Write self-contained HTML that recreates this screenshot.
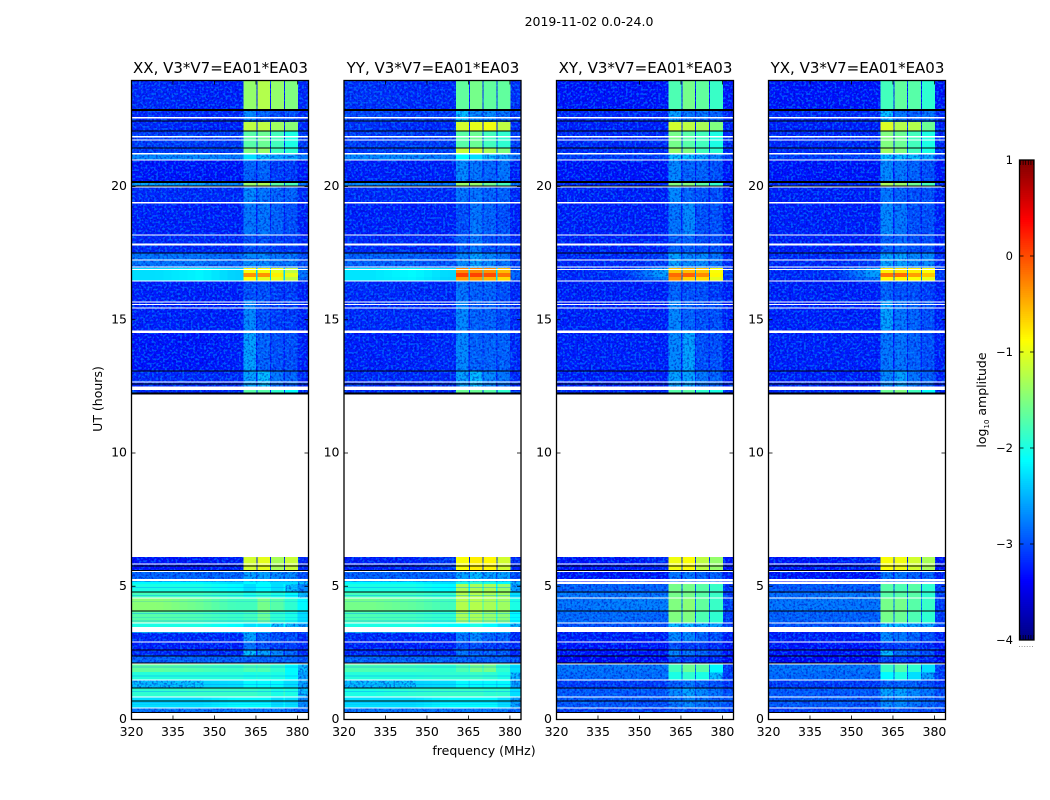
<!DOCTYPE html>
<html>
<head>
<meta charset="utf-8">
<title>2019-11-02 0.0-24.0</title>
<style>
html,body{margin:0;padding:0;background:#fff;width:1050px;height:800px;overflow:hidden}
svg{display:block}
text{font-family:"DejaVu Sans","Liberation Sans",sans-serif;fill:#000}
</style>
</head>
<body>
<svg id="figure" xmlns="http://www.w3.org/2000/svg" width="1050" height="800" viewBox="0 0 1050 800">
<defs>
<filter id="speckleDark" x="0" y="0" width="100%" height="100%" color-interpolation-filters="sRGB">
<feTurbulence type="fractalNoise" baseFrequency="0.48" numOctaves="1" seed="4"/>
<feColorMatrix type="matrix" values="0 0 0 0 0  0 0 0 0 0  0 0 0 0 0.72  7 0 0 0 -3.4"/>
</filter>
<filter id="speckleLight" x="0" y="0" width="100%" height="100%" color-interpolation-filters="sRGB">
<feTurbulence type="fractalNoise" baseFrequency="0.46" numOctaves="1" seed="11"/>
<feColorMatrix type="matrix" values="0 0 0 0 0  0 0 0 0 0.62  0 0 0 0 1  7 0 0 0 -3.5"/>
</filter>
</defs>
<text x="589" y="26" font-size="12.5" text-anchor="middle">2019-11-02 0.0-24.0</text>
<text x="484" y="755" font-size="12.5" text-anchor="middle">frequency (MHz)</text>
<text x="102" y="399" font-size="12.5" text-anchor="middle" transform="rotate(-90 102 399)">UT (hours)</text>
<text x="986" y="400" font-size="12.5" text-anchor="middle" transform="rotate(-90 986 400)">log<tspan font-size="7" dy="3">10</tspan><tspan dy="-3"> amplitude</tspan></text>
<g id="panels"></g>
<g id="colorbar"></g>
</svg>
<script>
// Frequency column boundaries (MHz): four sub-bands with gaps, right edge
var freqEdges = [360.5, 365, 365.5, 370, 370.5, 375, 375.5, 380, 384];
// Background anchor frequencies (MHz) for the three background entries of each row
var bgAnchors = [330, 345, 357];
// Time rows (UT hours, top to bottom); row 20 is the data gap
var utEdges = [24,22.87,22.42,22.08,21.45,21.22,20.99,20.17,19.98,19.38,18.18,17.5,16.94,16.75,16.6,16.45,15.74,14.62,13.08,12.44,12.25,6.1,5.57,5.17,5.08,4.78,4.56,4.07,3.62,3.28,2.91,2.61,2.38,2.08,1.78,1.48,1.18,0.84,0.43,0.24];
var xTicks = [320, 335, 350, 365, 380];
var yTicks = [0, 5, 10, 15, 20];
var colorTicks = [1, 0, -1, -2, -3, -4];
var panelTitles = ["XX, V3*V7=EA01*EA03", "YY, V3*V7=EA01*EA03", "XY, V3*V7=EA01*EA03", "YX, V3*V7=EA01*EA03"];
// UT intervals flagged/absent (white) and zero-amplitude (black), common to all products
var whiteBands = [[22.55,22.6],[21.84,21.89],[21.72,21.77],[21.2,21.25],[20.97,21.02],[19.96,20.0],[19.36,19.41],[18.16,18.2],[17.79,17.86],[17.22,17.27],[16.96,17.0],[16.87,16.91],[16.43,16.47],[15.65,15.69],[15.55,15.59],[15.42,15.46],[14.51,14.6],[12.64,12.68],[12.36,12.5],[5.81,5.85],[5.53,5.57],[5.2,5.28],[4.54,4.58],[3.6,3.64],[3.29,3.47],[2.89,2.93],[2.06,2.1],[1.46,1.5],[0.82,0.86],[0.41,0.45],[0,0.24]];
var crossWhiteBands = [[5.08,5.17]];
var blackBands = [[22.84,22.91],[22.44,22.48],[22.06,22.1],[21.43,21.47],[20.14,20.2],[20.0,20.04],[17.48,17.52],[13.06,13.1],[12.57,12.61],[12.2,12.27],[5.74,5.78],[5.57,5.61],[4.76,4.8],[4.05,4.09],[2.59,2.63],[2.36,2.4],[2.1,2.14],[1.16,1.2],[0.67,0.71],[0.24,0.28]];
// Thin dim streaks in the bright co-polar hours
var streakBands = [[4.94,4.97],[4.64,4.67],[4.4,4.43],[3.96,3.99],[3.8,3.83],[3.68,3.71],[1.96,1.99],[1.62,1.65],[1.3,1.33],[1.04,1.07],[0.62,0.65],[0.54,0.57]];
// log10 amplitude per row: [bgLeft, bgMid, bgRight, band1, band2, band3, band4, edgeRight]
var xxLevels = [
[-3.0,-3.05,-3.05,-1.4,-1.25,-1.4,-1.5,-3.0],[-3.0,-3.0,-3.0,-2.5,-2.7,-2.8,-2.8,-3.0],[-3.0,-3.05,-3.05,-1.2,-1.2,-1.35,-1.45,-3.0],
[-2.9,-2.9,-2.9,-1.7,-1.6,-1.8,-2.0,-2.9],[-2.9,-2.9,-2.9,-1.5,-1.4,-1.8,-1.9,-2.9],[-2.5,-2.5,-2.6,-2.2,-2.3,-2.4,-2.4,-2.6],
[-3.1,-3.1,-3.1,-2.7,-2.7,-2.9,-2.9,-3.1],[-2.4,-2.4,-2.5,-1.4,-1.3,-1.7,-1.8,-2.6],[-3.0,-3.0,-3.0,-2.5,-2.6,-2.7,-2.7,-3.0],
[-3.05,-3.05,-3.05,-2.6,-2.6,-2.7,-2.8,-3.05],[-3.0,-3.0,-3.0,-2.8,-2.8,-2.9,-2.9,-3.0],[-2.6,-2.6,-2.7,-2.5,-2.5,-2.6,-2.6,-2.8],
[-2.2,-2.12,-2.25,-0.9,-0.9,-1.0,-1.2,-2.6],[-2.2,-2.12,-2.25,-0.35,-0.35,-0.8,-1.0,-2.6],[-2.2,-2.12,-2.25,-0.9,-1.0,-1.0,-1.2,-2.7],
[-3.05,-3.05,-3.05,-2.8,-2.8,-2.9,-2.9,-3.05],[-3.05,-3.05,-3.05,-2.5,-2.8,-2.9,-2.9,-3.05],[-3.1,-3.1,-3.05,-2.4,-2.7,-2.8,-2.8,-3.05],
[-3.0,-3.0,-3.0,-2.4,-2.3,-2.6,-2.7,-3.0],[-3.0,-3.0,-3.0,-1.7,-1.7,-1.9,-2.1,-3.0],
null,
[-3.1,-3.1,-3.05,-1.1,-1.0,-1.3,-1.15,-3.0],[-2.7,-2.7,-2.7,-2.4,-2.4,-2.5,-2.5,-2.8],[-2.1,-2.1,-2.2,-2.1,-2.1,-2.2,-2.2,-2.3],
[-2.0,-2.0,-2.1,-2.2,-2.1,-2.2,-2.3,-2.5],[-1.8,-1.8,-1.9,-2.0,-1.9,-2.0,-2.1,-2.3],[-1.45,-1.6,-1.8,-1.8,-1.55,-1.7,-1.9,-2.1],
[-1.7,-1.75,-1.85,-1.8,-1.6,-1.9,-2.0,-2.2],[-2.0,-2.0,-2.1,-2.2,-2.2,-2.3,-2.3,-2.4],[-3.0,-3.0,-3.0,-2.4,-2.7,-2.8,-2.8,-3.0],
[-3.05,-3.05,-3.05,-2.6,-2.8,-2.9,-2.9,-3.0],[-3.0,-3.0,-3.0,-2.3,-2.4,-2.5,-2.7,-3.0],[-2.7,-2.7,-2.7,-2.7,-2.7,-2.7,-2.7,-2.8],
[-1.65,-1.75,-1.85,-1.75,-1.75,-1.9,-2.1,-2.3],[-1.95,-1.95,-1.95,-2.0,-2.0,-2.0,-2.1,-2.4],[-2.3,-2.25,-2.2,-2.1,-2.1,-2.1,-2.2,-2.4],
[-1.9,-1.85,-1.85,-1.85,-1.9,-2.0,-2.0,-2.3],[-2.2,-2.2,-2.1,-2.1,-2.1,-2.2,-2.2,-2.5],[-2.6,-2.6,-2.6,-2.6,-2.6,-2.6,-2.7,-2.7]
];
var yyLevels = [
[-2.95,-3.0,-3.0,-1.65,-1.55,-1.65,-1.65,-2.95],[-2.85,-2.9,-2.9,-2.3,-2.5,-2.5,-2.6,-2.9],[-2.95,-3.0,-3.0,-1.1,-1.0,-0.95,-1.2,-3.0],
[-2.9,-2.9,-2.9,-1.7,-1.6,-1.8,-1.9,-2.9],[-2.9,-2.9,-2.9,-1.15,-1.1,-1.3,-1.5,-2.9],[-2.5,-2.5,-2.6,-2.1,-2.2,-2.3,-2.4,-2.6],
[-3.05,-3.05,-3.05,-2.5,-2.6,-2.7,-2.6,-3.05],[-2.5,-2.5,-2.6,-1.4,-1.4,-1.6,-1.8,-2.6],[-3.0,-3.0,-3.0,-2.6,-2.6,-2.7,-2.7,-3.0],
[-3.05,-3.05,-3.05,-2.8,-2.6,-2.7,-2.8,-3.05],[-3.0,-3.0,-3.0,-2.7,-2.6,-2.8,-2.8,-3.0],[-2.7,-2.7,-2.8,-2.5,-2.4,-2.5,-2.6,-2.9],
[-2.18,-2.1,-2.22,-0.3,-0.3,-0.35,-0.55,-2.7],[-2.18,-2.1,-2.22,0.05,0.05,0.0,-0.2,-2.7],[-2.18,-2.12,-2.24,-0.4,-0.4,-0.5,-0.7,-2.75],
[-3.0,-3.0,-3.0,-2.6,-2.7,-2.7,-2.8,-3.0],[-3.0,-3.0,-3.0,-2.5,-2.7,-2.7,-2.8,-3.0],[-3.05,-3.05,-3.0,-2.5,-2.7,-2.7,-2.7,-3.0],
[-3.0,-3.0,-3.0,-2.4,-2.3,-2.5,-2.6,-3.0],[-3.0,-3.0,-3.0,-1.6,-1.6,-1.7,-1.9,-3.0],
null,
[-3.05,-3.05,-2.9,-0.9,-0.8,-0.85,-1.1,-3.0],[-2.7,-2.7,-2.7,-2.4,-2.3,-2.4,-2.4,-2.8],[-2.1,-2.1,-2.2,-2.0,-1.9,-2.0,-2.1,-2.3],
[-2.0,-2.0,-2.1,-1.3,-1.3,-1.3,-1.4,-2.4],[-1.8,-1.8,-1.9,-1.25,-1.25,-1.3,-1.35,-2.2],[-1.55,-1.65,-1.8,-1.25,-1.25,-1.3,-1.35,-2.0],
[-1.75,-1.8,-1.9,-1.3,-1.3,-1.4,-1.45,-2.1],[-2.0,-2.0,-2.1,-2.1,-2.0,-2.1,-2.2,-2.3],[-3.0,-3.0,-3.0,-2.6,-2.5,-2.7,-2.7,-3.0],
[-3.05,-3.05,-3.05,-2.8,-2.8,-2.9,-2.9,-3.0],[-3.0,-3.0,-3.0,-2.6,-2.7,-2.7,-2.7,-3.0],[-2.7,-2.7,-2.7,-2.7,-2.7,-2.7,-2.7,-2.8],
[-1.75,-1.8,-1.9,-1.75,-1.55,-1.55,-1.9,-2.2],[-1.95,-1.95,-1.9,-1.9,-1.85,-1.9,-2.0,-2.3],[-2.3,-2.25,-2.2,-2.1,-2.1,-2.1,-2.1,-2.4],
[-2.0,-1.9,-1.85,-1.85,-1.85,-1.9,-1.9,-2.2],[-2.2,-2.2,-2.1,-2.1,-2.1,-2.1,-2.2,-2.4],[-2.6,-2.6,-2.6,-2.6,-2.6,-2.6,-2.6,-2.7]
];
var xyLevels = [
[-3.1,-3.1,-3.1,-1.75,-1.55,-1.65,-1.85,-3.1],[-3.0,-3.0,-3.0,-2.4,-2.6,-2.6,-2.7,-3.0],[-3.05,-3.05,-3.05,-1.1,-1.2,-1.3,-1.5,-3.05],
[-3.0,-3.0,-3.0,-1.55,-1.7,-1.8,-2.0,-3.0],[-3.0,-3.0,-3.0,-1.4,-1.5,-1.8,-1.9,-3.0],[-2.9,-2.9,-2.9,-2.3,-2.3,-2.4,-2.5,-2.9],
[-3.1,-3.1,-3.1,-2.5,-2.7,-2.7,-2.8,-3.1],[-3.0,-3.0,-3.0,-1.5,-1.5,-1.7,-1.9,-3.0],[-3.05,-3.05,-3.05,-2.5,-2.7,-2.8,-2.8,-3.05],
[-3.05,-3.05,-3.05,-2.6,-2.5,-2.8,-2.8,-3.05],[-3.05,-3.05,-3.05,-2.7,-2.7,-2.8,-2.8,-3.05],[-3.0,-3.0,-2.9,-2.4,-2.5,-2.5,-2.6,-3.0],
[-3.0,-2.95,-2.4,-0.6,-0.55,-0.6,-0.9,-2.9],[-3.0,-2.95,-2.4,-0.15,-0.1,-0.3,-0.85,-2.9],[-3.0,-3.0,-2.6,-0.35,-0.65,-0.7,-1.0,-2.95],
[-3.05,-3.05,-3.05,-2.7,-2.8,-2.8,-2.9,-3.05],[-3.05,-3.05,-3.05,-2.5,-2.7,-2.8,-2.8,-3.05],[-3.05,-3.05,-3.05,-2.5,-2.4,-2.8,-2.8,-3.05],
[-3.05,-3.05,-3.05,-2.4,-2.4,-2.6,-2.7,-3.05],[-3.0,-3.0,-3.0,-1.7,-1.7,-1.9,-2.0,-3.0],
null,
[-3.1,-3.1,-3.0,-0.95,-0.9,-1.2,-1.4,-3.1],[-3.1,-3.1,-3.1,-2.6,-2.6,-2.7,-2.7,-3.05],[-3.1,-3.1,-3.1,-2.4,-2.4,-2.5,-2.5,-3.0],
[-2.7,-2.7,-2.7,-1.55,-1.55,-1.7,-1.85,-2.9],[-2.6,-2.6,-2.6,-1.55,-1.55,-1.7,-1.85,-2.9],[-2.6,-2.55,-2.55,-1.5,-1.45,-1.65,-1.85,-2.9],
[-2.65,-2.65,-2.7,-1.5,-1.5,-1.75,-1.9,-2.9],[-2.8,-2.8,-2.8,-2.3,-2.3,-2.4,-2.4,-2.9],[-3.05,-3.05,-3.05,-2.5,-2.5,-2.7,-2.8,-3.05],
[-3.1,-3.1,-3.1,-2.8,-2.9,-2.9,-3.0,-3.1],[-3.1,-3.1,-3.1,-2.5,-2.6,-2.7,-2.8,-3.1],[-3.2,-3.2,-3.2,-2.8,-2.9,-3.0,-3.0,-3.2],
[-2.6,-2.6,-2.6,-1.8,-1.6,-1.7,-2.1,-2.9],[-2.65,-2.65,-2.65,-2.0,-1.9,-2.0,-2.3,-2.9],[-2.9,-2.9,-2.9,-2.7,-2.6,-2.7,-2.8,-2.95],
[-2.75,-2.75,-2.75,-2.5,-2.4,-2.5,-2.6,-2.8],[-2.75,-2.75,-2.8,-2.6,-2.5,-2.6,-2.7,-2.8],[-2.9,-2.9,-2.9,-2.8,-2.8,-2.8,-2.8,-2.9]
];
var yxLevels = [
[-3.1,-3.1,-3.1,-1.8,-1.65,-1.7,-1.9,-3.1],[-3.0,-3.0,-3.0,-2.3,-2.6,-2.7,-2.6,-3.0],[-3.05,-3.05,-3.05,-1.05,-1.25,-1.25,-1.6,-3.05],
[-3.0,-3.0,-3.0,-1.5,-1.6,-1.8,-2.0,-3.0],[-3.0,-3.0,-3.0,-1.35,-1.5,-1.8,-2.0,-3.0],[-2.9,-2.9,-2.9,-2.3,-2.3,-2.3,-2.4,-2.9],
[-3.1,-3.1,-3.1,-2.5,-2.6,-2.7,-2.8,-3.1],[-3.0,-3.0,-3.0,-1.3,-1.4,-1.6,-1.8,-3.0],[-3.05,-3.05,-3.05,-2.6,-2.7,-2.8,-2.8,-3.05],
[-3.05,-3.05,-3.05,-2.5,-2.6,-2.8,-2.8,-3.05],[-3.05,-3.05,-3.05,-2.7,-2.7,-2.8,-2.8,-3.05],[-3.0,-3.0,-2.9,-2.4,-2.4,-2.5,-2.5,-3.0],
[-3.0,-2.95,-2.4,-0.8,-0.75,-0.8,-0.9,-2.9],[-3.0,-2.95,-2.4,-0.2,-0.15,-0.4,-0.6,-2.9],[-3.0,-3.0,-2.6,-0.85,-0.85,-0.9,-1.0,-2.95],
[-3.05,-3.05,-3.05,-2.7,-2.8,-2.8,-2.9,-3.05],[-3.05,-3.05,-3.05,-2.4,-2.6,-2.7,-2.8,-3.05],[-3.05,-3.05,-3.05,-2.6,-2.6,-2.7,-2.8,-3.05],
[-3.05,-3.05,-3.05,-2.5,-2.4,-2.6,-2.7,-3.05],[-3.0,-3.0,-3.0,-1.6,-1.5,-1.8,-2.1,-3.0],
null,
[-3.1,-3.1,-3.0,-0.9,-0.95,-1.1,-1.3,-3.1],[-3.1,-3.1,-3.1,-2.6,-2.6,-2.7,-2.7,-3.05],[-3.1,-3.1,-3.1,-2.4,-2.4,-2.5,-2.5,-3.0],
[-2.75,-2.75,-2.75,-1.7,-1.75,-1.7,-1.9,-2.9],[-2.65,-2.6,-2.6,-1.7,-1.7,-1.7,-1.9,-2.9],[-2.6,-2.6,-2.6,-1.55,-1.55,-1.7,-1.85,-2.9],
[-2.7,-2.7,-2.7,-1.55,-1.6,-1.75,-1.9,-2.9],[-2.8,-2.8,-2.8,-2.3,-2.3,-2.4,-2.4,-2.9],[-3.05,-3.05,-3.05,-2.5,-2.6,-2.7,-2.8,-3.05],
[-3.1,-3.1,-3.1,-2.9,-2.9,-2.9,-3.0,-3.1],[-3.1,-3.1,-3.1,-2.3,-2.6,-2.7,-2.8,-3.1],[-3.2,-3.2,-3.2,-2.8,-2.9,-3.0,-3.0,-3.2],
[-2.6,-2.6,-2.6,-1.85,-1.7,-1.9,-2.2,-2.9],[-2.65,-2.65,-2.65,-2.1,-2.0,-2.2,-2.4,-2.9],[-2.9,-2.9,-2.9,-2.7,-2.7,-2.7,-2.8,-2.95],
[-2.75,-2.75,-2.75,-2.4,-2.4,-2.5,-2.6,-2.8],[-2.75,-2.75,-2.8,-2.5,-2.5,-2.6,-2.7,-2.8],[-2.9,-2.9,-2.9,-2.8,-2.8,-2.8,-2.8,-2.9]
];
var panelLevels = [xxLevels, yyLevels, xyLevels, yxLevels];
var panelIsCross = [false, false, true, true];
// Which entry of a row paints each sub-band/gap/edge column
var columnSource = [3, 2, 4, 2, 5, 2, 6, 7];
var panelLefts = [131.5, 344, 556.5, 768.5];
var panelWidth = 177;
var plotTop = 80.5;
var plotBottom = 719.5;
var pxPerHour = 26.65;
var NS = "http://www.w3.org/2000/svg";

function make(tag, attrs, parent) {
  var el = document.createElementNS(NS, tag);
  for (var k in attrs) el.setAttribute(k, attrs[k]);
  parent.appendChild(el);
  return el;
}
function yScale(ut) { return Math.max(plotTop, plotBottom - ut * pxPerHour); }
function xScale(f, left) { return left + (f - 320) / 64 * panelWidth; }
function clamp01(v) { return Math.max(0, Math.min(1, v)); }
function jet(level) {
  var t = (level + 4) / 5;
  var r = clamp01(1.5 - Math.abs(4 * t - 3));
  var g = clamp01(1.5 - Math.abs(4 * t - 2));
  var b = clamp01(1.5 - Math.abs(4 * t - 1));
  return "rgb(" + Math.round(r * 255) + "," + Math.round(g * 255) + "," + Math.round(b * 255) + ")";
}
// Low-level rows render slightly below their estimated mean (noise floor)
function floorShift(level) { return level - 0.2 * clamp01((-2 - level) / 0.5); }
function bgLevel(row, f) {
  if (f <= bgAnchors[0]) return row[0];
  if (f <= bgAnchors[1]) return row[0] + (row[1] - row[0]) * (f - bgAnchors[0]) / (bgAnchors[1] - bgAnchors[0]);
  if (f <= bgAnchors[2]) return row[1] + (row[2] - row[1]) * (f - bgAnchors[1]) / (bgAnchors[2] - bgAnchors[1]);
  return row[2];
}
function bandRect(band, left, color, parent, name, opacity) {
  var y0 = yScale(band[1]);
  var y1 = yScale(band[0]);
  var r = make("rect", {x: left, y: y0, width: panelWidth, height: Math.max(y1 - y0, 0.8), fill: color, opacity: opacity || 1}, parent);
  
  
}

var panelsRoot = document.getElementById("panels");
panelTitles.forEach(function (title, p) {
  var left = panelLefts[p];
  var right = left + panelWidth;
  var g = make("g", {}, panelsRoot);
  
  

  var t = make("text", {x: left + panelWidth / 2 + 0.5, y: 73, "font-size": "15", "text-anchor": "middle"}, g);
  t.textContent = title;
  
  

  var noisy = make("g", {"shape-rendering": "crispEdges"}, g);
  
  
  var noiseLayer = make("g", {}, g);
  
  
  var bright = make("g", {"shape-rendering": "crispEdges"}, g);
  
  

  function cell(x0, x1, y0, y1, level) {
    var c = make("rect", {x: x0, y: y0, width: x1 - x0 + 0.4, height: y1 - y0 + 0.4, fill: jet(floorShift(level))}, level < -2.25 ? noisy : bright);
    
    
  }

  var rows = panelLevels[p];
  rows.forEach(function (row, i) {
    if (!row) return;
    var y0 = yScale(utEdges[i]);
    var y1 = yScale(utEdges[i + 1]);
    var step = (freqEdges[0] - 320) / 14;
    for (var s = 0; s < 14; s++) {
      var f0 = 320 + s * step;
      cell(xScale(f0, left), xScale(f0 + step, left), y0, y1, bgLevel(row, f0 + step / 2));
    }
    columnSource.forEach(function (src, c) {
      cell(xScale(freqEdges[c], left), xScale(freqEdges[c + 1], left), y0, y1, row[src]);
    });
  });

  make("rect", {x: left, y: plotTop, width: panelWidth, height: plotBottom - plotTop, filter: "url(#speckleDark)", opacity: "0.45"}, noiseLayer);
  make("rect", {x: left, y: plotTop, width: panelWidth, height: plotBottom - plotTop, filter: "url(#speckleLight)", opacity: "0.5"}, noiseLayer);

  var lines = make("g", {"shape-rendering": "crispEdges"}, g);
  
  
  if (!panelIsCross[p]) streakBands.forEach(function (b) { bandRect(b, left, "#0090ff", lines, 'rfi-streak', 0.4); });
  bandRect([6.1, 12.25], left, "#fff", lines, 'data-gap');
  whiteBands.forEach(function (b) { bandRect(b, left, "#fff", lines, 'flagged-band'); });
  if (panelIsCross[p]) crossWhiteBands.forEach(function (b) { bandRect(b, left, "#fff", lines, 'flagged-band'); });
  blackBands.forEach(function (b) { bandRect(b, left, "#000", lines, 'zero-band'); });

  var frame = make("rect", {x: left, y: plotTop, width: panelWidth, height: plotBottom - plotTop, fill: "none", stroke: "#000", "stroke-width": "1.3"}, g);
  
  

  xTicks.forEach(function (f) {
    var x = xScale(f, left);
    make("line", {x1: x, x2: x, y1: plotBottom, y2: plotBottom - 4, stroke: "#000", "stroke-width": "0.8"}, g);
    make("line", {x1: x, x2: x, y1: plotTop, y2: plotTop + 4, stroke: "#000", "stroke-width": "0.8"}, g);
    var label = make("text", {x: x, y: 736, "font-size": "12.5", "text-anchor": "middle"}, g);
    label.textContent = f;
    
    
  });
  yTicks.forEach(function (u) {
    var y = yScale(u);
    make("line", {x1: left, x2: left + 4, y1: y, y2: y, stroke: "#000", "stroke-width": "0.8"}, g);
    make("line", {x1: right, x2: right - 4, y1: y, y2: y, stroke: "#000", "stroke-width": "0.8"}, g);
    var label = make("text", {x: left - 4.5, y: y + 3.5, "font-size": "12.5", "text-anchor": "end"}, g);
    label.textContent = u;
    
    
  });
});

// Colorbar
var cbRoot = document.getElementById("colorbar");
var cbLeft = 1019.5, cbRight = 1034, cbTop = 160, cbBottom = 640;
function cbScale(level) { return cbBottom - (level + 4) / 5 * (cbBottom - cbTop); }
for (var lv = -4; lv < 1; lv += 0.02) {
  var seg = make("rect", {x: cbLeft, y: cbScale(lv + 0.02), width: cbRight - cbLeft, height: cbScale(lv) - cbScale(lv + 0.02) + 0.5, fill: jet(lv + 0.01), "shape-rendering": "crispEdges"}, cbRoot);
  
  
}
var cbFrame = make("rect", {x: cbLeft, y: cbTop, width: cbRight - cbLeft, height: cbBottom - cbTop, fill: "none", stroke: "#000", "stroke-width": "1.3"}, cbRoot);


colorTicks.forEach(function (v) {
  var y = cbScale(v);
  make("line", {x1: cbLeft, x2: cbLeft + 4, y1: y, y2: y, stroke: "#000", "stroke-width": "0.8"}, cbRoot);
  make("line", {x1: cbRight, x2: cbRight - 4, y1: y, y2: y, stroke: "#000", "stroke-width": "0.8"}, cbRoot);
  var label = make("text", {x: 1013, y: y + 4, "font-size": "11.5", "text-anchor": "end"}, cbRoot);
  label.textContent = v < 0 ? "\u2212" + Math.abs(v) : String(v);
  
  
});
for (var d = 0; d < 6; d++) {
  var sx = cbLeft + 1 + d * 2.6;
  make("line", {x1: sx, x2: sx, y1: cbTop, y2: cbTop + 5, stroke: "#000", "stroke-width": "0.7"}, cbRoot);
  make("line", {x1: sx, x2: sx, y1: cbBottom, y2: cbBottom - 5, stroke: "#000", "stroke-width": "0.7"}, cbRoot);
  make("rect", {x: sx - 1.5, y: 646, width: 1, height: 1, fill: "#999"}, cbRoot);
}
</script>
</body>
</html>
